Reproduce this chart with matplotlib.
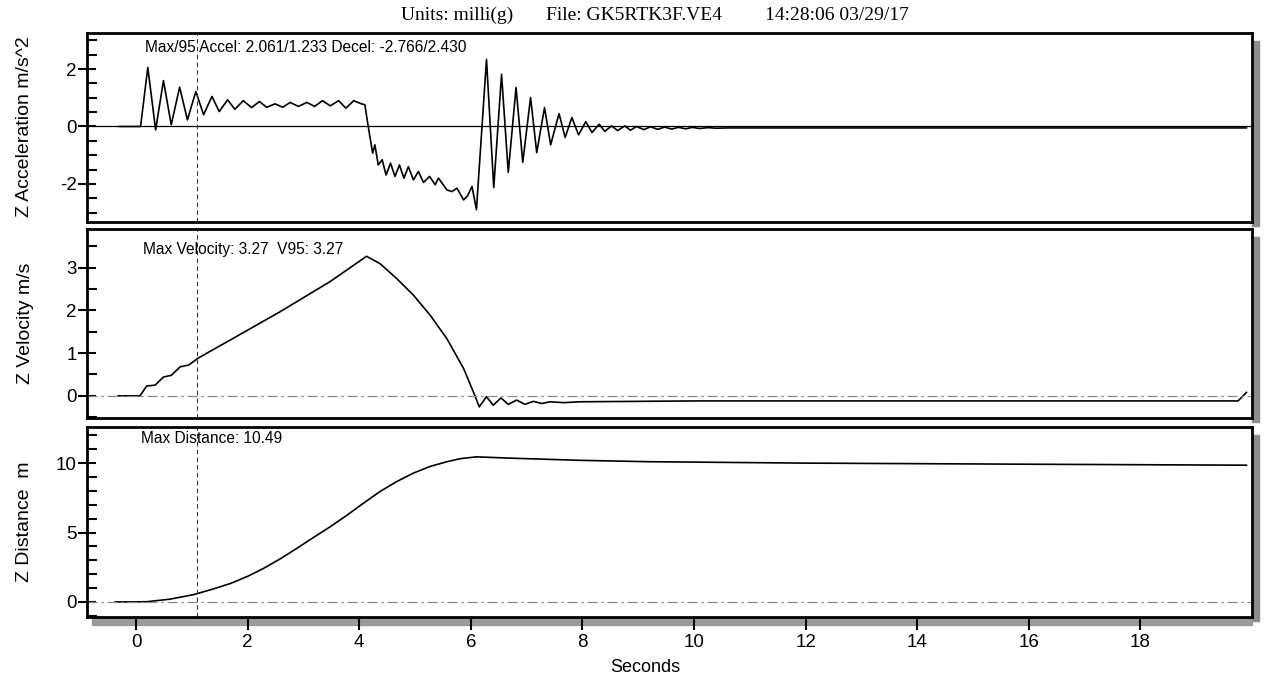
import matplotlib
matplotlib.use("Agg")
import matplotlib.pyplot as plt
from matplotlib.patches import Rectangle
from matplotlib.ticker import MultipleLocator

plt.rcParams['font.family'] = ['Liberation Sans', 'DejaVu Sans']
plt.rcParams['axes.unicode_minus'] = False

# --- data (seconds) ---
acc_t = [-0.3, 0.08, 0.21, 0.35, 0.49, 0.63, 0.78, 0.92, 1.07, 1.21, 1.36, 1.49, 1.64, 1.77,
         1.92, 2.07, 2.21, 2.34, 2.49, 2.63, 2.76, 2.91, 3.06, 3.20, 3.34, 3.48, 3.63, 3.76,
         3.90, 4.04, 4.10, 4.16, 4.24, 4.28, 4.34, 4.41, 4.48, 4.56, 4.64, 4.72, 4.80, 4.88,
         4.97, 5.06, 5.15, 5.26, 5.36, 5.42, 5.57, 5.66, 5.75, 5.87, 5.94, 6.02, 6.10, 6.28,
         6.41, 6.55, 6.67, 6.81, 6.93, 7.07, 7.18, 7.32, 7.43, 7.58, 7.69, 7.81, 7.93, 8.06,
         8.17, 8.30, 8.40, 8.52, 8.63, 8.76, 8.86, 8.97, 9.10, 9.22, 9.35, 9.47, 9.60, 9.72,
         9.85, 9.97, 10.10, 10.25, 10.40, 10.60, 11.0, 19.9]
acc_v = [0, 0, 2.06, -0.12, 1.60, 0.06, 1.37, 0.23, 1.22, 0.41, 1.05, 0.52, 0.93, 0.60,
         0.90, 0.66, 0.87, 0.67, 0.79, 0.67, 0.84, 0.70, 0.84, 0.70, 0.90, 0.72, 0.90, 0.64,
         0.90, 0.79, 0.76, 0.0, -0.93, -0.64, -1.34, -1.16, -1.69, -1.28, -1.74, -1.34, -1.80, -1.40,
         -1.86, -1.57, -1.95, -1.74, -2.03, -1.80, -2.21, -2.27, -2.15, -2.56, -2.42, -2.09, -2.90, 2.34,
         -2.13, 1.82, -1.60, 1.36, -1.25, 1.01, -0.91, 0.66, -0.64, 0.45, -0.38, 0.31, -0.29, 0.17,
         -0.21, 0.08, -0.17, 0.02, -0.14, 0.02, -0.13, 0.0, -0.11, -0.01, -0.10, -0.02, -0.09, -0.03,
         -0.08, -0.03, -0.07, -0.04, -0.06, -0.05, -0.05, -0.05]

vel_t = [-0.32, 0.07, 0.19, 0.34, 0.49, 0.63, 0.79, 0.94, 1.12, 1.69, 2.58, 3.48, 4.13,
         4.37, 4.67, 4.97, 5.27, 5.57, 5.87, 6.08, 6.15, 6.28, 6.40, 6.54, 6.67, 6.82,
         6.97, 7.12, 7.27, 7.42, 7.66, 7.96, 10.0, 15.0, 19.75, 19.9]
vel_v = [0, 0, 0.23, 0.25, 0.44, 0.48, 0.68, 0.72, 0.89, 1.31, 1.97, 2.68, 3.27,
         3.10, 2.75, 2.36, 1.89, 1.34, 0.64, -0.02, -0.26, -0.02, -0.22, -0.05, -0.20, -0.10,
         -0.20, -0.13, -0.18, -0.14, -0.16, -0.14, -0.12, -0.12, -0.12, 0.08]

dist_t = [-0.38, 0.19, 0.6, 1.03, 1.35, 1.69, 2.0, 2.28, 2.58, 2.88, 3.18, 3.48, 3.78, 4.07,
          4.37, 4.67, 4.97, 5.27, 5.57, 5.81, 6.1, 6.76, 7.96, 9.2, 12.0, 16.0, 19.9]
dist_v = [0, 0.02, 0.2, 0.53, 0.9, 1.33, 1.85, 2.41, 3.1, 3.86, 4.65, 5.42, 6.25, 7.1,
          7.95, 8.67, 9.28, 9.76, 10.1, 10.32, 10.45, 10.35, 10.2, 10.1, 10.0, 9.92, 9.85]

x_ticks = [0, 2, 4, 6, 8, 10, 12, 14, 16, 18]
marker_t = 1.1

header_parts = ["Units: milli(g)", "File: GK5RTK3F.VE4", "14:28:06 03/29/17"]
acc_note = "Max/95 Accel: 2.061/1.233 Decel: -2.766/2.430"
vel_note = "Max Velocity: 3.27  V95: 3.27"
dist_note = "Max Distance: 10.49"

W, H = 1270, 679
fig = plt.figure(figsize=(W / 100, H / 100), dpi=100)


def rect(l, t, r, b):
    return [l / W, 1 - b / H, (r - l) / W, (b - t) / H]


panels = [(87, 33, 1252, 222), (87, 229, 1252, 418), (87, 427, 1252, 617)]
ax1, ax2, ax3 = [fig.add_axes(rect(*p)) for p in panels]

# gray "shadow" edges like the printed frames
for (l, t, r, b) in panels:
    fig.patches.append(Rectangle((r / W, 1 - (b + 4) / H), 7 / W, (b - t - 4) / H,
                                 transform=fig.transFigure, color='#8c8c8c', zorder=-1))
fig.patches.append(Rectangle((92 / W, 1 - 625 / H), (1252 - 92) / W, 7 / H,
                             transform=fig.transFigure, color='#9a9a9a', zorder=-1))

line_kw = dict(color='black', lw=1.2, solid_joinstyle='round')
ax1.plot(acc_t, acc_v, **line_kw)
ax1.axhline(0, color='black', lw=0.9)
ax2.plot(vel_t, vel_v, **line_kw)
ax2.axhline(0, color='#8a8a8a', lw=0.9, ls=(0, (8, 3, 2, 3)))
ax3.plot(dist_t, dist_v, **line_kw)
ax3.axhline(0, color='#8a8a8a', lw=0.9, ls=(0, (8, 3, 2, 3)))

ax1.set_ylim(-3.33, 3.26)
ax2.set_ylim(-0.52, 3.91)
ax3.set_ylim(-1.08, 12.6)

ax1.yaxis.set_major_locator(MultipleLocator(2))
ax1.yaxis.set_minor_locator(MultipleLocator(0.5))
ax2.yaxis.set_major_locator(MultipleLocator(1))
ax2.yaxis.set_minor_locator(MultipleLocator(0.5))
ax3.yaxis.set_major_locator(MultipleLocator(5))
ax3.yaxis.set_minor_locator(MultipleLocator(1))

for ax in (ax1, ax2, ax3):
    ax.set_xlim(-0.88, 20.0)
    ax.axvline(marker_t, color='#333333', lw=0.8, ls=(0, (4, 3)))
    for s in ax.spines.values():
        s.set_linewidth(2)
    ax.tick_params(axis='y', which='major', direction='inout', length=13, width=1.5,
                   labelsize=13.5, pad=1)
    ax.tick_params(axis='y', which='minor', direction='in', length=7, width=1.5)
    ax.set_xticks(x_ticks)

for ax in (ax1, ax2):
    ax.tick_params(axis='x', bottom=False, labelbottom=False)
ax3.tick_params(axis='x', direction='out', length=9, width=1.5, labelsize=13.5, pad=3)

note_size = 11.2
ax1.text(0.16, 2.75, acc_note, fontsize=note_size, va='center')
ax2.text(0.13, 3.44, vel_note, fontsize=note_size, va='center')
ax3.text(0.09, 11.8, dist_note, fontsize=note_size, va='center')

fig.text(25 / W, 1 - 127 / H, "Z Acceleration m/s^2", rotation=90, ha='center', va='center', fontsize=14)
fig.text(25 / W, 1 - 323 / H, "Z Velocity m/s", rotation=90, ha='center', va='center', fontsize=14)
fig.text(25 / W, 1 - 522 / H, "Z Distance  m", rotation=90, ha='center', va='center', fontsize=14)
fig.text(645 / W, 1 - 667 / H, "Seconds", ha='center', va='center', fontsize=13)

for x_px, part in zip([401, 546, 765], header_parts):
    fig.text(x_px / W, 1 - 15 / H, part, ha='left', va='center', fontsize=14,
             family=['Liberation Serif', 'DejaVu Serif'])

fig.savefig("out.png", dpi=100)
